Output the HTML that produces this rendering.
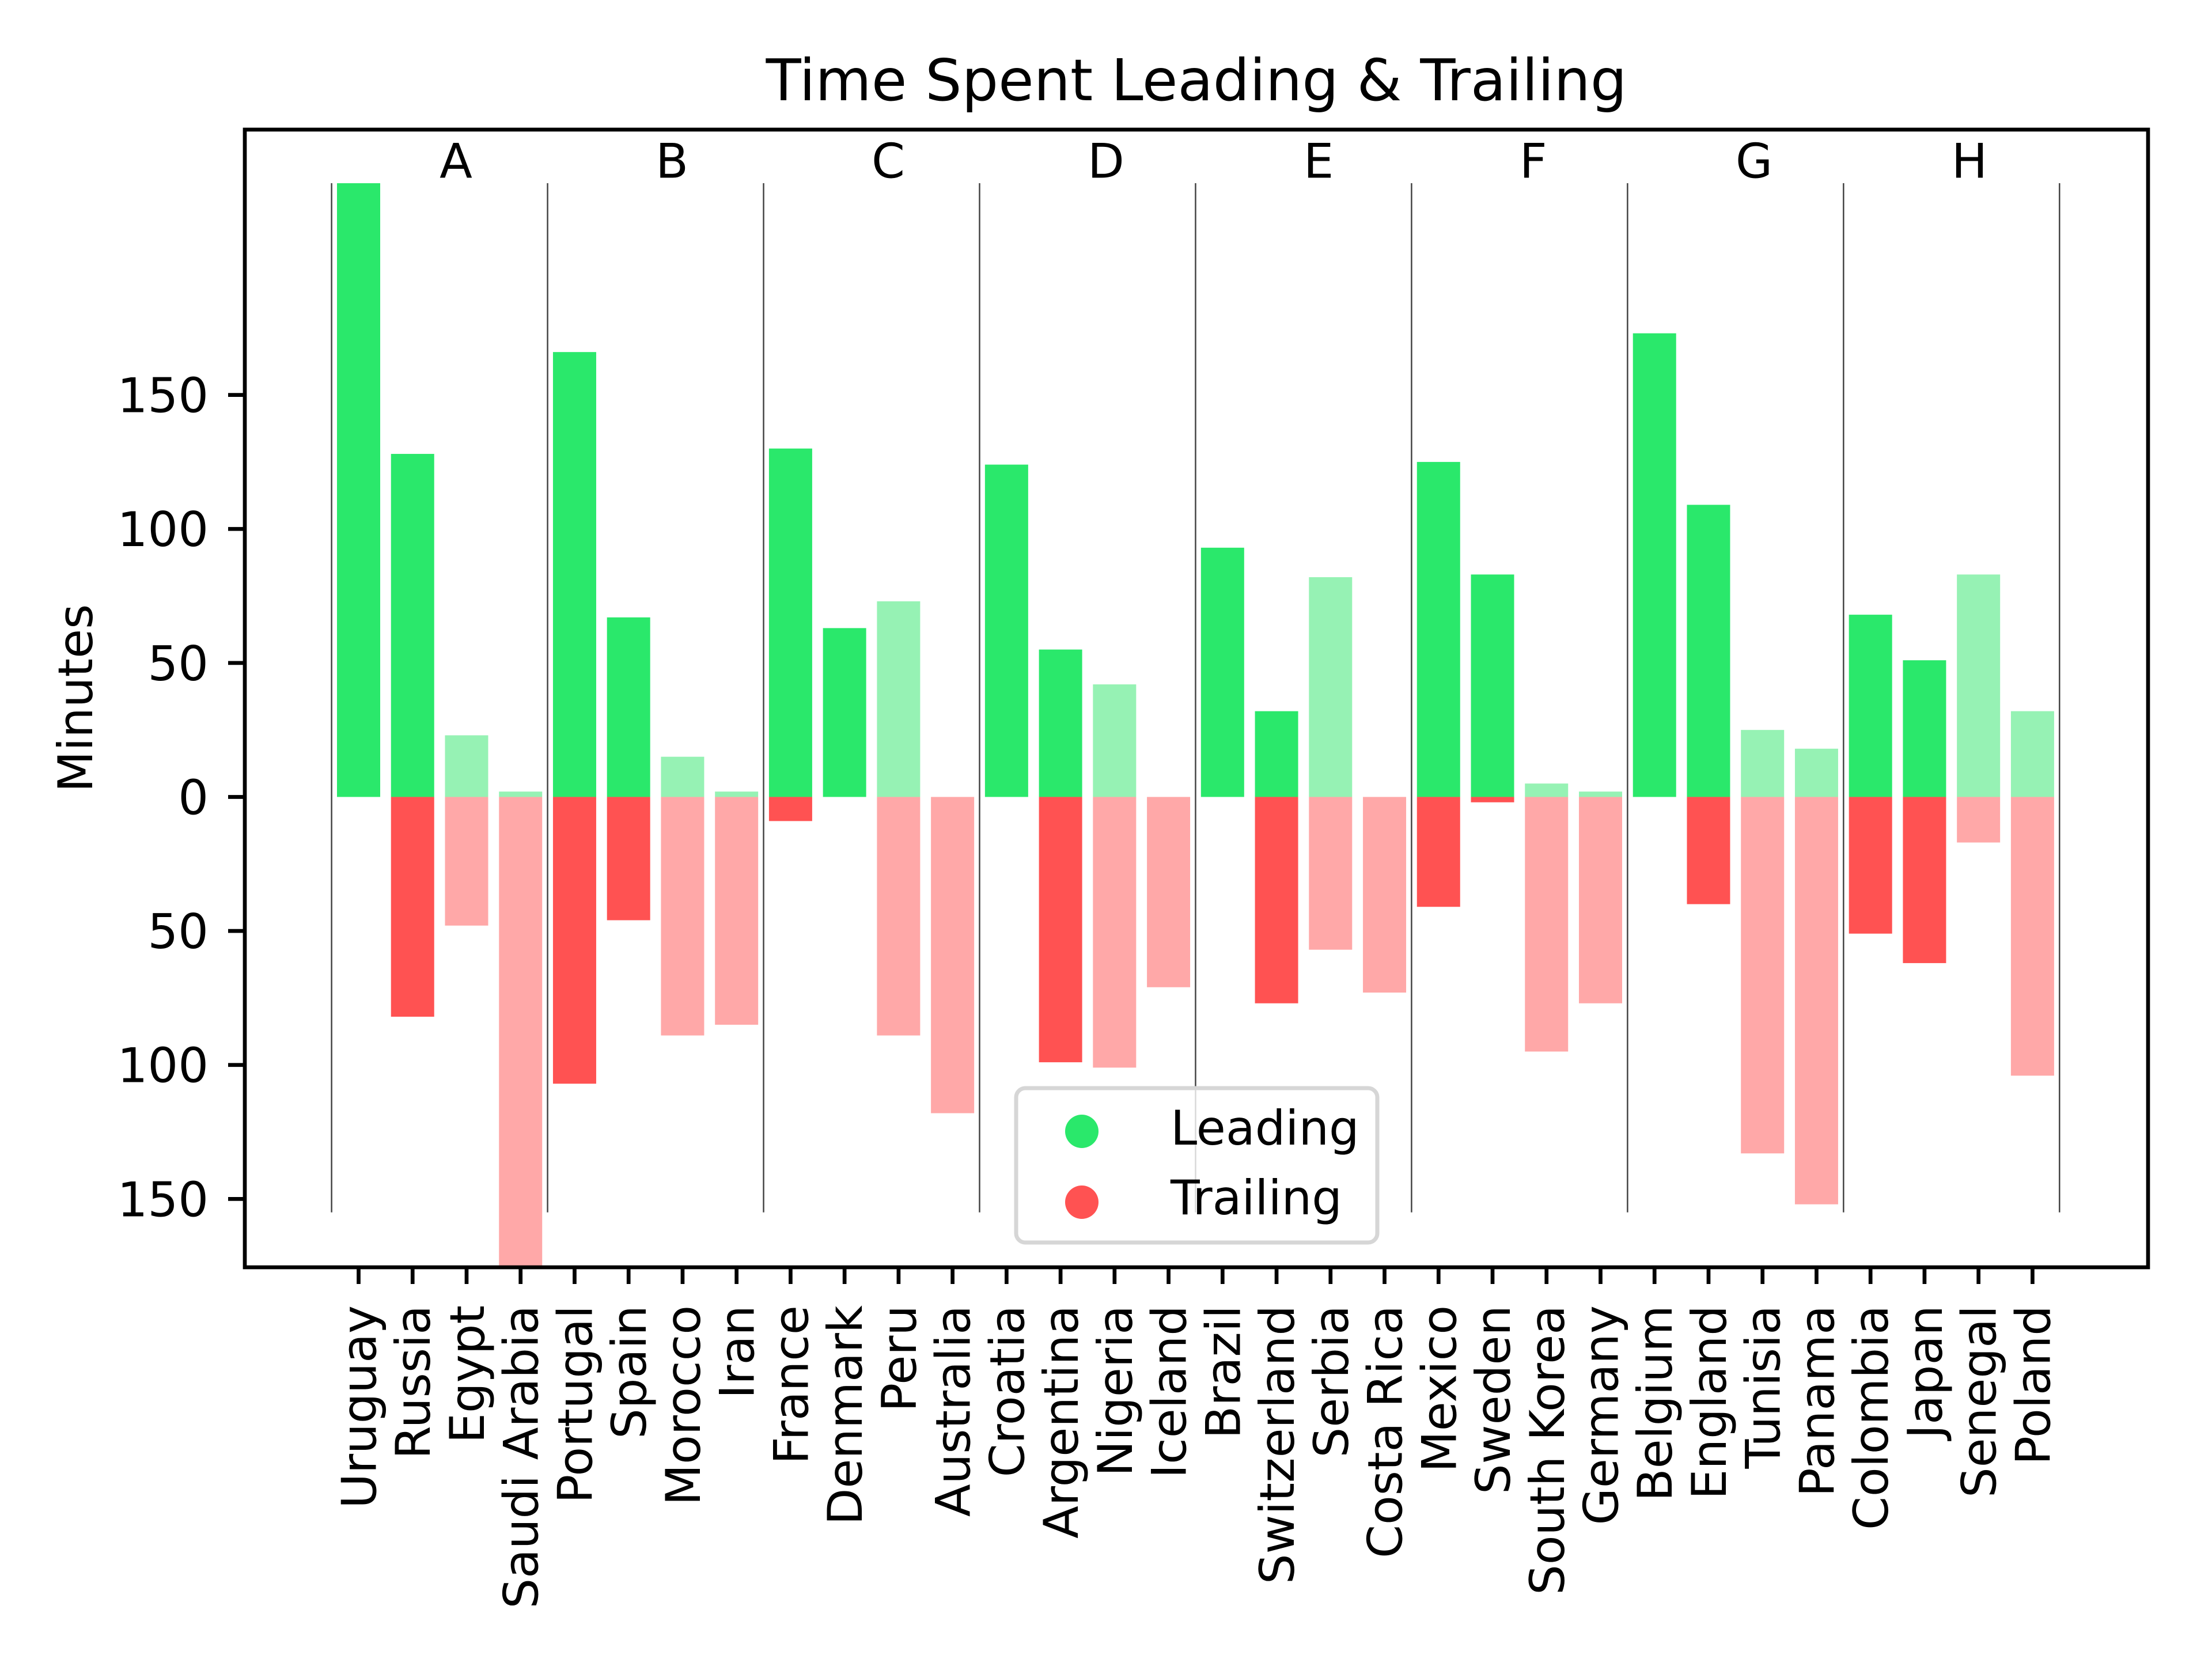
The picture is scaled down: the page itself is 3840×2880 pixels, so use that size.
<!DOCTYPE html>
<html><head><meta charset="utf-8"><style>
html,body{margin:0;padding:0;background:#fff;}
svg{display:block;font-family:"DejaVu Sans","Liberation Sans",sans-serif;}
</style></head><body>
<svg id="chart" width="3840" height="2880" viewBox="0 0 3840 2880" xmlns="http://www.w3.org/2000/svg">
<rect x="0" y="0" width="3840" height="2880" fill="#fff"/>
<text x="2077" y="174" font-size="100" text-anchor="middle">Time Spent Leading &amp; Trailing</text>
<text transform="translate(160,1212) rotate(-90)" font-size="83" text-anchor="middle">Minutes</text>
<g id="plot"></g>
<g id="legend">
<rect x="1764" y="1889" width="627" height="268" rx="16" fill="#fff" fill-opacity="0.8" stroke="#d6d6d6" stroke-width="7"/>
<circle cx="1878" cy="1964" r="29" fill="#2ae86b"/>
<text x="2032" y="1987" font-size="83">Leading</text>
<circle cx="1878" cy="2087" r="29" fill="#ff5252"/>
<text x="2032" y="2108" font-size="83">Trailing</text>
</g>
</svg>
<script>
const teams = ["Uruguay","Russia","Egypt","Saudi Arabia","Portugal","Spain","Morocco","Iran","France","Denmark","Peru","Australia","Croatia","Argentina","Nigeria","Iceland","Brazil","Switzerland","Serbia","Costa Rica","Mexico","Sweden","South Korea","Germany","Belgium","England","Tunisia","Panama","Colombia","Japan","Senegal","Poland"];
const leading = [229,128,23,2,166,67,15,2,130,63,73,0,124,55,42,0,93,32,82,0,125,83,5,2,173,109,25,18,68,51,83,32];
const trailing = [0,82,48,178,107,46,89,85,9,0,89,118,0,99,101,71,0,77,57,73,41,2,95,77,0,40,133,152,51,62,17,104];
const advanced = [1,1,0,0,1,1,0,0,1,1,0,0,1,1,0,0,1,1,0,0,1,1,0,0,1,1,0,0,1,1,0,0];
const groups = ["A","B","C","D","E","F","G","H"];
const yTicks = [150,100,50,0,-50,-100,-150];
const yTickLabels = ["150","100","50","0","50","100","150"];

const AX = {l:425, r:3729, t:225, b:2200};
const X0 = -2.107, X1 = 33.14, Y0 = -175.5, Y1 = 249;
const sx = v => AX.l + (v - X0) / (X1 - X0) * (AX.r - AX.l);
const sy = v => AX.b - (v - Y0) / (Y1 - Y0) * (AX.b - AX.t);
const NS = "http://www.w3.org/2000/svg";
const plot = document.getElementById('plot');
function mk(tag, attrs, parent){
  const e = document.createElementNS(NS, tag);
  for (const k in attrs) e.setAttribute(k, attrs[k]);
  (parent||plot).appendChild(e);
  return e;
}
const clip = mk('clipPath', {id:'clipax'});
mk('rect', {x:AX.l, y:AX.t, width:AX.r-AX.l, height:AX.b-AX.t}, clip);
const bars = mk('g', {'clip-path':'url(#clipax)'});


const bw = 0.8;
teams.forEach((t, i) => {
  const x = sx(i - bw/2), w = sx(i + bw/2) - sx(i - bw/2);
  const adv = advanced[i] === 1;
  if (leading[i] > 0) {
    const r = mk('rect', {x:x, y:sy(leading[i]), width:w, height:sy(0)-sy(leading[i]), fill: adv ? '#2ae86b' : '#96f2b4'}, bars);
    
    
  }
  if (trailing[i] > 0) {
    const r = mk('rect', {x:x, y:sy(0), width:w, height:sy(-trailing[i])-sy(0), fill: adv ? '#ff5252' : '#ffa8a8'}, bars);
    
    
  }
});
// group separators
for (let k = 0; k <= groups.length; k++) {
  const xv = sx(4*k - 0.5);
  const ln = mk('line', {x1:xv, x2:xv, y1:sy(229), y2:sy(-155), stroke:'#444', 'stroke-width':2.5});
  
  
}
groups.forEach((g, k) => {
  const tx = mk('text', {x:sx(4*k + 1.5), y:sy(231), 'font-size':83});
  tx.textContent = g;
  
  
});
// frame
const fr = mk('rect', {x:AX.l, y:AX.t, width:AX.r-AX.l, height:AX.b-AX.t, fill:'none', stroke:'#000', 'stroke-width':6.7});


// y ticks
yTicks.forEach((v, i) => {
  const y = sy(v);
  const tk = mk('line', {x1:AX.l-29, x2:AX.l, y1:y, y2:y, stroke:'#000', 'stroke-width':6.7});
  
  
  const lb = mk('text', {x:AX.l-63, y:y+30, 'font-size':83, 'text-anchor':'end'});
  lb.textContent = yTickLabels[i];
  
  
});
// x ticks
teams.forEach((t, i) => {
  const x = sx(i);
  const tk = mk('line', {x1:x, x2:x, y1:AX.b, y2:AX.b+29, stroke:'#000', 'stroke-width':6.7});
  
  
  const lb = mk('text', {transform:'translate(' + (x + 30) + ',2266) rotate(-90)', 'font-size':83, 'text-anchor':'end'});
  lb.textContent = t;
  
  
});
</script>
</body></html>
